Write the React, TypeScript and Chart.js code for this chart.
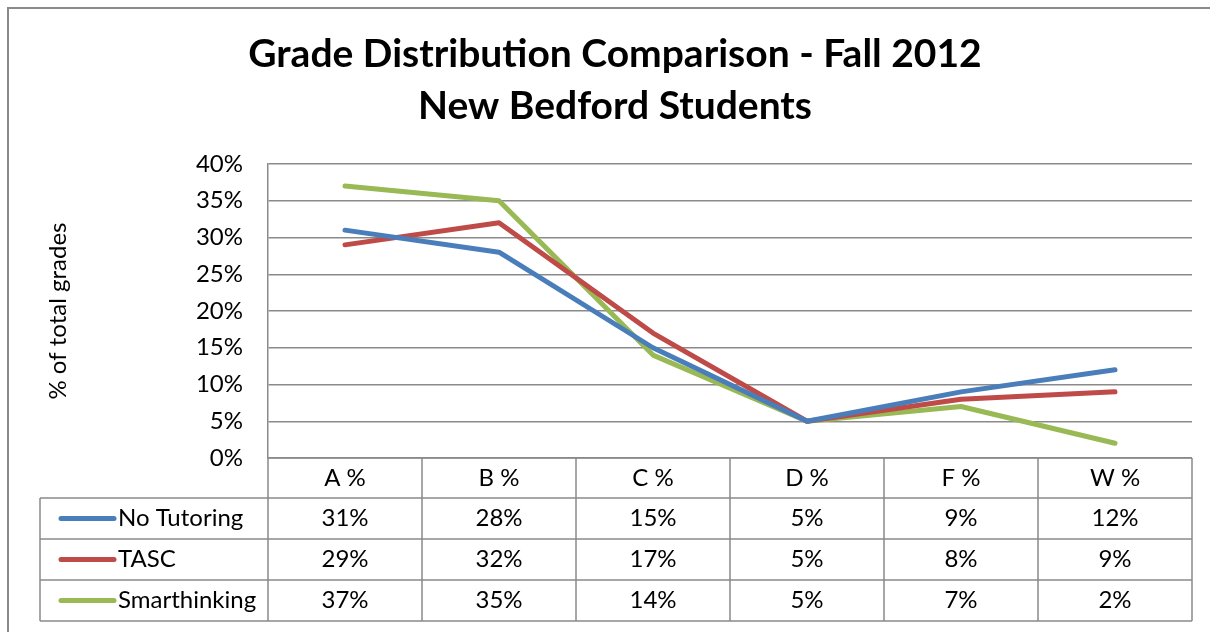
import React, { useEffect, useRef } from "react";
import { Chart, registerables } from "chart.js";

Chart.register(...registerables);

const categories = ["A %", "B %", "C %", "D %", "F %", "W %"];
const seriesNames = ["No Tutoring", "TASC", "Smarthinking"];
const noTutoring = [31, 28, 15, 5, 9, 12];
const tasc = [29, 32, 17, 5, 8, 9];
const smarthinking = [37, 35, 14, 5, 7, 2];
const seriesColors = ["#4A7EBB", "#BE4B48", "#98B954"];
const titleLines = ["Grade Distribution Comparison - Fall 2012", "New Bedford Students"];
const yAxisTitle = "% of total grades";
const yMin = 0;
const yMax = 40;
const yStep = 5;

const FONT = "Lato";
const TEXT_SIZE = 24;
const GRID = "#8a8a8a";
const seriesValues = [noTutoring, tasc, smarthinking];

const framePlugin = {
  id: "frame",
  beforeDraw(chart: any) {
    const ctx = chart.ctx;
    ctx.save();
    ctx.fillStyle = "#ffffff";
    ctx.fillRect(0, 0, chart.width, chart.height);
    ctx.strokeStyle = GRID;
    ctx.lineWidth = 2;
    ctx.strokeRect(8, 8, chart.width + 50, chart.height + 50);
    ctx.restore();
  },
};

const tablePlugin = {
  id: "dataTable",
  afterDraw(chart: any) {
    const { ctx, chartArea } = chart;
    const xs = chart.scales.x;
    const n = categories.length;
    const top = chartArea.bottom;
    const headerBottom = top + 40;
    const rowH = 41;
    const tableBottom = headerBottom + rowH * seriesNames.length;
    const legendLeft = 40;
    const centers = categories.map((_, i) => xs.getPixelForValue(i));
    const bounds: number[] = [chartArea.left];
    for (let i = 1; i < n; i++) bounds.push((centers[i - 1] + centers[i]) / 2);
    bounds.push(chartArea.right);

    ctx.save();
    ctx.strokeStyle = GRID;
    ctx.lineWidth = 1.5;
    ctx.beginPath();
    ctx.moveTo(chartArea.left, top);
    ctx.lineTo(chartArea.right, top);
    for (let r = 0; r <= seriesNames.length; r++) {
      const y = headerBottom + r * rowH;
      ctx.moveTo(legendLeft, y);
      ctx.lineTo(chartArea.right, y);
    }
    bounds.forEach((b) => {
      ctx.moveTo(b, top);
      ctx.lineTo(b, tableBottom);
    });
    ctx.moveTo(legendLeft, headerBottom);
    ctx.lineTo(legendLeft, tableBottom);
    ctx.stroke();

    ctx.font = `${TEXT_SIZE}px ${FONT}`;
    ctx.fillStyle = "#000";
    ctx.textBaseline = "middle";
    seriesNames.forEach((name, r) => {
      const cy = headerBottom + r * rowH + rowH / 2;
      ctx.strokeStyle = seriesColors[r];
      ctx.lineWidth = 5;
      ctx.lineCap = "round";
      ctx.beginPath();
      ctx.moveTo(61, cy);
      ctx.lineTo(114, cy);
      ctx.stroke();
      ctx.textAlign = "left";
      ctx.fillText(name, 118, cy);
      ctx.textAlign = "center";
      seriesValues[r].forEach((v, i) => {
        ctx.fillText(`${v}%`, centers[i], cy);
      });
    });
    ctx.restore();
  },
};

export default function App() {
  const ref = useRef<HTMLCanvasElement | null>(null);

  useEffect(() => {
    if (!ref.current) return;
    const tickFont = { family: FONT, size: TEXT_SIZE };
    const chart = new Chart(ref.current, {
      type: "line",
      data: {
        labels: categories,
        datasets: seriesNames.map((name, i) => ({
          label: name,
          data: seriesValues[i],
          borderColor: seriesColors[i],
          backgroundColor: seriesColors[i],
          borderWidth: 5,
          pointRadius: 0,
          tension: 0,
          borderCapStyle: "round" as const,
          borderJoinStyle: "round" as const,
          fill: false,
          yAxisID: "y",
        })),
      },
      options: {
        responsive: false,
        animation: false,
        layout: { padding: { left: 20, right: 0, top: 0, bottom: 0 } },
        plugins: {
          legend: { display: false },
          tooltip: { enabled: false },
          title: {
            display: true,
            text: titleLines,
            color: "#000",
            font: { family: FONT, size: 39, weight: "bold", lineHeight: "52px" } as any,
            padding: { top: 28, bottom: 32 },
          },
        },
        scales: {
          x: {
            type: "category",
            offset: true,
            grid: { display: false, drawTicks: false },
            border: { display: false },
            ticks: { font: tickFont, color: "#000", padding: 6, maxRotation: 0, autoSkip: false },
            afterFit: (s: any) => {
              s.height = 174;
            },
          },
          y: {
            min: yMin,
            max: yMax,
            ticks: {
              stepSize: yStep,
              font: tickFont,
              color: "#000",
              padding: 25,
              callback: (v: any) => `${v}%`,
            },
            grid: { color: GRID, lineWidth: 1.5, drawTicks: false },
            border: { display: true, color: GRID, width: 1.5 },
            title: {
              display: true,
              text: yAxisTitle,
              color: "#000",
              font: tickFont,
              padding: { top: 24, bottom: 0 },
            },
            afterFit: (s: any) => {
              s.width = 248;
            },
          },
          yRight: {
            position: "right",
            display: true,
            min: yMin,
            max: yMax,
            grid: { display: false, drawTicks: false },
            border: { display: false },
            ticks: { display: false },
            afterFit: (s: any) => {
              s.width = 18;
            },
          },
        },
      },
      plugins: [framePlugin, tablePlugin],
    });
    return () => chart.destroy();
  }, []);

  return (
    <div style={{ position: "fixed", left: 0, top: 0, width: 1210, height: 632, background: "#fff" }}>
      <canvas ref={ref} width={1210} height={632} style={{ display: "block", width: 1210, height: 632 }} />
    </div>
  );
}
